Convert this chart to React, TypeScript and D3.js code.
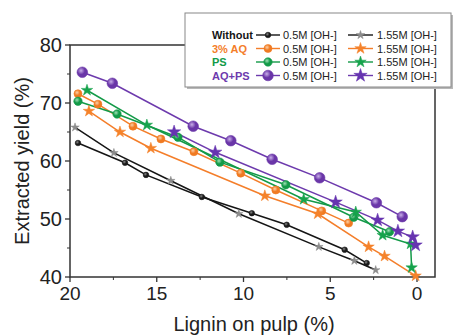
import React from "react";
import * as d3 from "d3";

const xTicks = [20, 15, 10, 5, 0];
const xMinor = [17.5, 12.5, 7.5, 2.5];
const yTicks = [40, 50, 60, 70, 80];
const yMinor = [45, 55, 65, 75];

const withoutLowX = [19.54, 16.83, 15.62, 12.4, 9.52, 7.51, 4.17, 2.9];
const withoutLowY = [63.1, 59.7, 57.6, 53.8, 51.0, 49.0, 44.7, 42.4];
const withoutHighX = [19.71, 17.47, 14.19, 10.27, 5.66, 3.61, 2.38];
const withoutHighY = [65.8, 61.4, 56.6, 50.9, 45.2, 42.8, 41.2];
const aqLowX = [19.54, 18.39, 16.37, 14.76, 12.86, 10.16, 8.14, 5.49, 3.94];
const aqLowY = [71.6, 69.8, 66.0, 63.8, 61.6, 57.9, 55.0, 51.4, 49.3];
const aqHighX = [18.91, 17.12, 15.34, 8.77, 5.72, 2.79, 1.87, 0.08];
const aqHighY = [68.6, 65.0, 62.2, 54.0, 50.9, 45.2, 43.6, 40.2];
const psLowX = [19.54, 17.29, 13.78, 11.36, 7.56, 3.65, 1.58];
const psLowY = [70.3, 68.1, 64.1, 59.8, 55.9, 50.3, 47.8];
const psHighX = [19.02, 15.57, 6.53, 3.53, 1.98, 0.37, 0.31];
const psHighY = [72.2, 66.2, 53.4, 51.2, 47.2, 45.7, 41.6];
const aqpsLowX = [19.29, 17.56, 12.9, 10.73, 8.35, 5.61, 2.34, 0.85];
const aqpsLowY = [75.3, 73.4, 66.0, 63.5, 60.3, 57.1, 52.8, 50.4];
const aqpsHighX = [14.0, 11.63, 4.69, 2.27, 1.1, 0.25, 0.08];
const aqpsHighY = [65.0, 61.5, 52.9, 49.8, 47.9, 46.9, 45.5];

const groupLabels = ["Without", "3% AQ", "PS", "AQ+PS"];
const lowLabel = "0.5M [OH-]";
const highLabel = "1.55M [OH-]";

type Series = {
  xs: number[];
  ys: number[];
  kind: "circle" | "star";
  color: string;
  fill: string;
  light: string;
  r: number;
  id: string;
};

const FONT = "'Liberation Sans', Arial, Helvetica, sans-serif";

export default function App() {
  const x = d3.scaleLinear().domain([20, 0]).range([70, 417]);
  const y = d3.scaleLinear().domain([40, 80]).range([277, 45]);
  const x0 = 70, x1 = 435, y0 = 277, y1 = 45;

  const black = "#151515";
  const orange = "#f47e2a";
  const green = "#139a48";
  const purple = "#6d3aad";

  const series: Series[] = [
    { xs: withoutLowX, ys: withoutLowY, kind: "circle", color: black, fill: "#1a1a1a", light: "#8a8a8a", r: 2.8, id: "g0" },
    { xs: withoutHighX, ys: withoutHighY, kind: "star", color: black, fill: "#8c8c8c", light: "#bbb", r: 4.5, id: "g1" },
    { xs: aqLowX, ys: aqLowY, kind: "circle", color: orange, fill: "#f07a22", light: "#fbd0a8", r: 4, id: "g2" },
    { xs: aqHighX, ys: aqHighY, kind: "star", color: orange, fill: "#f5822a", light: "#fff", r: 6, id: "g3" },
    { xs: psLowX, ys: psLowY, kind: "circle", color: green, fill: "#139a48", light: "#9fe0b5", r: 4.2, id: "g4" },
    { xs: psHighX, ys: psHighY, kind: "star", color: green, fill: "#16a34c", light: "#fff", r: 6, id: "g5" },
    { xs: aqpsLowX, ys: aqpsLowY, kind: "circle", color: purple, fill: "#6a36a8", light: "#c8aee8", r: 5.3, id: "g6" },
    { xs: aqpsHighX, ys: aqpsHighY, kind: "star", color: purple, fill: "#6634b0", light: "#fff", r: 7, id: "g7" },
  ];

  const line = d3.line<[number, number]>().x((d) => x(d[0])).y((d) => y(d[1]));
  const ka = 0.8908130915292852;
  const starPath = (R: number) => d3.symbol().type(d3.symbolStar).size((R * R) / ka)() || "";

  const marker = (s: Series, cx: number, cy: number, key: string | number) =>
    s.kind === "circle" ? (
      <circle key={key} cx={cx} cy={cy} r={s.r} fill={`url(#${s.id})`} stroke={s.fill} strokeWidth={0.6} />
    ) : (
      <path key={key} d={starPath(s.r)} transform={`translate(${cx},${cy})`} fill={s.fill} stroke={s.fill} strokeWidth={0.5} />
    );

  const rowsY = [35, 48.5, 62, 75.5];
  const groupColors = [black, orange, green, purple];

  return (
    <svg width={456} height={336} style={{ position: "absolute", left: 0, top: 0, background: "#fff" }} fontFamily={FONT}>
      <defs>
        {series.filter((s) => s.kind === "circle").map((s) => (
          <radialGradient key={s.id} id={s.id} cx="0.38" cy="0.35" r="0.65">
            <stop offset="0" stopColor={s.light} />
            <stop offset="0.55" stopColor={s.fill} />
            <stop offset="1" stopColor={s.fill} />
          </radialGradient>
        ))}
      </defs>
      <rect x={0} y={0} width={456} height={336} fill="#fff" />

      {/* frame */}
      <rect x={x0} y={y1} width={x1 - x0} height={y0 - y1} fill="none" stroke="#333" strokeWidth={1.5} />

      {/* x ticks */}
      {xTicks.map((t) => (
        <g key={"xt" + t}>
          <line x1={x(t)} x2={x(t)} y1={y0} y2={y0 + 5} stroke="#333" strokeWidth={1.3} />
          <text x={x(t)} y={300} textAnchor="middle" fontSize={19} fill="#222">{t}</text>
        </g>
      ))}
      {xMinor.map((t) => (
        <line key={"xm" + t} x1={x(t)} x2={x(t)} y1={y0} y2={y0 + 3} stroke="#333" strokeWidth={1} />
      ))}
      {yTicks.map((t) => (
        <g key={"yt" + t}>
          <line x1={x0 - 5} x2={x0} y1={y(t)} y2={y(t)} stroke="#333" strokeWidth={1.3} />
          <text x={62} y={y(t) + 7} textAnchor="end" fontSize={20} fill="#222">{t}</text>
        </g>
      ))}
      {yMinor.map((t) => (
        <line key={"ym" + t} x1={x0 - 3} x2={x0} y1={y(t)} y2={y(t)} stroke="#333" strokeWidth={1} />
      ))}

      <text x={254} y={331} textAnchor="middle" fontSize={20} fill="#222">Lignin on pulp (%)</text>
      <text transform="translate(29,161) rotate(-90)" textAnchor="middle" fontSize={20} fill="#222">Extracted yield (%)</text>

      {/* lines */}
      {series.map((s) => (
        <path key={"l" + s.id} d={line(s.xs.map((v, i) => [v, s.ys[i]] as [number, number])) || ""} fill="none" stroke={s.color} strokeWidth={1.5} />
      ))}
      {/* markers */}
      {series.map((s) => (
        <g key={"m" + s.id}>{s.xs.map((v, i) => marker(s, x(v), y(s.ys[i]), i))}</g>
      ))}

      {/* legend */}
      <rect x={187} y={15} width={266} height={74} fill="#b8b8b8" />
      <rect x={185} y={13} width={266} height={74} fill="#fff" stroke="#888" strokeWidth={1} />
      {groupLabels.map((g, i) => {
        const ry = rowsY[i];
        const sLow = series[i * 2];
        const sHigh = series[i * 2 + 1];
        return (
          <g key={"lg" + i}>
            <text x={212} y={ry + 4} fontSize={11} fontWeight="bold" fill={groupColors[i]}>{g}</text>
            <line x1={256} x2={280} y1={ry} y2={ry} stroke={sLow.color} strokeWidth={1.4} />
            {marker(sLow, 268, ry, "a")}
            <text x={283} y={ry + 4} fontSize={11} fill="#222">{lowLabel}</text>
            <line x1={348} x2={373} y1={ry} y2={ry} stroke={sHigh.color} strokeWidth={1.4} />
            {marker(sHigh, 360.5, ry, "b")}
            <text x={377} y={ry + 4} fontSize={11} fill="#222">{highLabel}</text>
          </g>
        );
      })}
    </svg>
  );
}
